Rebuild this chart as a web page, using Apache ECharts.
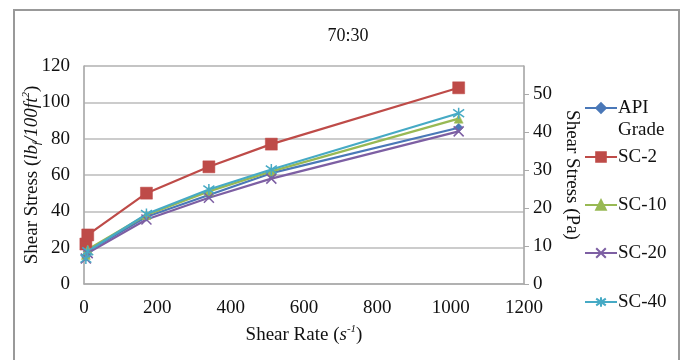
<!DOCTYPE html>
<html>
<head>
<meta charset="utf-8">
<script src="https://cdn.jsdelivr.net/npm/echarts@6/dist/echarts.min.js"></script>
<style>
  html, body { margin: 0; padding: 0; background: #fff; }
  #chart { width: 683px; height: 360px; }
</style>
</head>
<body>
<div id="chart"></div>
<script>
// shear rate (s^-1) and shear stress (lbf/100ft2)
const shearRate = [5.1, 10.2, 170.3, 340.6, 510.9, 1021.8];
const apiGrade = [15, 18, 37, 49, 61, 86];
const sc2 = [22, 27, 50, 64.5, 77, 108];
const sc10 = [16, 19, 38, 51, 62, 91];
const sc20 = [14, 17, 35.5, 47.5, 58, 84];
const sc40 = [14, 18, 38.5, 52, 63, 94];
const seriesNames = ['API Grade', 'SC-2', 'SC-10', 'SC-20', 'SC-40'];
const rightTicks = [0, 10, 20, 30, 40, 50];
const lbToPa = 0.4788;

const FONT = '"Liberation Serif", "DejaVu Serif", serif';
const FS = 19;
const colors = ['#4a78b8', '#be4b48', '#98b954', '#7d5fa3', '#46aac5'];
const symbols = [
    'diamond',
    'rect',
    'triangle',
    'path://M0,0L10,10M10,0L0,10',
    'path://M0,0L10,10M10,0L0,10M5,-2L5,12'
];
const symbolSizes = [9, 12, 9, 10, 11];
const seriesData = [apiGrade, sc2, sc10, sc20, sc40];

const chart = echarts.init(document.getElementById('chart'));

let series = [];
for (let i = 0; i < seriesNames.length; i++) {
    series.push({
        name: seriesNames[i],
        type: 'line',
        data: shearRate.map((x, j) => [x, seriesData[i][j]]),
        symbol: symbols[i],
        symbolSize: symbolSizes[i],
        showAllSymbol: true,
        lineStyle: { color: colors[i], width: 2.2 },
        itemStyle: { color: colors[i], borderColor: colors[i], borderWidth: i >= 3 ? 1.5 : 0.5 },
        emphasis: { disabled: true }
    });
}

// one legend per entry so the uneven spacing of the original can be kept
const legendCenters = [108, 157, 205, 253, 302];
let legends = seriesNames.map((name, i) => {
    const multi = i === 0;
    return {
        data: [name],
        orient: 'vertical',
        left: 584,
        top: multi ? legendCenters[i] - 33 : legendCenters[i] - 11,
        padding: 0,
        itemWidth: 32,
        itemHeight: 12,
        itemGap: 0,
        selectedMode: false,
        formatter: multi ? ' \nAPI\nGrade' : '{name}',
        textStyle: { fontFamily: FONT, fontSize: FS, color: '#111', lineHeight: 22, padding: [0, 0, 0, -4] }
    };
});

const option = {
    animation: false,
    backgroundColor: '#fff',
    title: {
        text: '70:30',
        left: 343,
        textAlign: 'center',
        top: 22,
        textStyle: { fontFamily: FONT, fontSize: 18, fontWeight: 'normal', color: '#111' }
    },
    legend: legends,
    grid: { left: 84, top: 66, right: 159, bottom: 76, show: true, borderColor: '#bbb', borderWidth: 1 },
    xAxis: {
        type: 'value',
        min: 0, max: 1200, interval: 200,
        axisLine: { show: true, lineStyle: { color: '#aaa', width: 1.5 } },
        axisTick: { show: false },
        splitLine: { show: false },
        axisLabel: { fontFamily: FONT, fontSize: FS, color: '#111', margin: 15, formatter: v => String(v) },
        name: '{n|Shear Rate (}{i|s}{sup|-1}{n|)}',
        nameLocation: 'middle',
        nameGap: 40,
        nameMoveOverlap: false,
        nameTextStyle: {
            rich: {
                n: { fontFamily: FONT, fontSize: FS, color: '#111', lineHeight: 22 },
                i: { fontFamily: FONT, fontSize: FS, fontStyle: 'italic', color: '#111', lineHeight: 22 },
                sup: { fontFamily: FONT, fontSize: 11, fontStyle: 'italic', color: '#111', verticalAlign: 'top', lineHeight: 22 }
            }
        }
    },
    yAxis: [{
        type: 'value',
        min: 0, max: 120, interval: 20,
        axisLine: { show: true, lineStyle: { color: '#aaa', width: 1.5 } },
        axisTick: { show: false },
        splitLine: { show: true, lineStyle: { color: '#bbb', width: 1.5 } },
        axisLabel: { fontFamily: FONT, fontSize: FS, color: '#111', margin: 14 },
        name: '{n|Shear Stress (}{i|lb}{sub|f}{i|/100ft}{sup|2}{n|)}',
        nameLocation: 'middle',
        nameGap: 41,
        nameMoveOverlap: false,
        nameTextStyle: {
            rich: {
                n: { fontFamily: FONT, fontSize: FS, color: '#111', lineHeight: 22 },
                i: { fontFamily: FONT, fontSize: FS, fontStyle: 'italic', color: '#111', lineHeight: 22 },
                sub: { fontFamily: FONT, fontSize: 11, fontStyle: 'italic', color: '#111', verticalAlign: 'bottom', lineHeight: 22 },
                sup: { fontFamily: FONT, fontSize: 11, fontStyle: 'italic', color: '#111', verticalAlign: 'top', lineHeight: 22 }
            }
        }
    }, {
        type: 'value',
        position: 'right',
        min: 0, max: 120 * lbToPa,
        axisLine: { show: true, lineStyle: { color: '#aaa', width: 1.5 } },
        axisTick: { show: true, length: 5, lineStyle: { color: '#aaa' }, customValues: rightTicks },
        splitLine: { show: false },
        axisLabel: {
            fontFamily: FONT, fontSize: FS, color: '#111', margin: 9,
            customValues: rightTicks,
            formatter: v => (Math.abs(v % 10) < 1e-6 ? String(v) : '')
        },
        name: 'Shear Stress (Pa)',
        nameLocation: 'middle',
        nameRotate: -90,
        nameGap: 38,
        nameMoveOverlap: false,
        nameTextStyle: { fontFamily: FONT, fontSize: FS, color: '#111' }
    }],
    graphic: [{
        type: 'rect',
        shape: { x: 14, y: 10, width: 665, height: 360 },
        style: { fill: 'none', stroke: '#999', lineWidth: 2 },
        silent: true
    }],
    series: series
};

chart.setOption(option);
</script>
</body>
</html>
